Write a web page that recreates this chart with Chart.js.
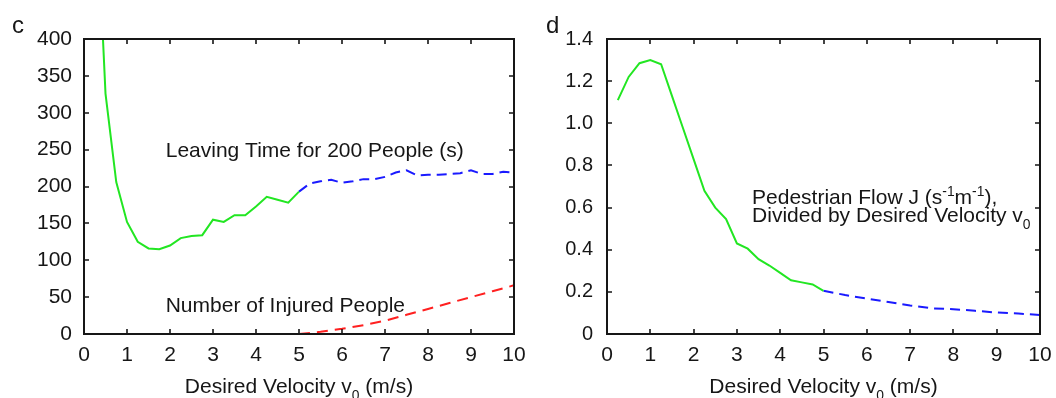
<!DOCTYPE html>
<html><head><meta charset="utf-8">
<script src="https://cdn.jsdelivr.net/npm/chart.js@4.4.1/dist/chart.umd.min.js"></script>
<style>
html,body{margin:0;padding:0;background:#fff;overflow:hidden}
#wrap{position:relative;width:1056px;height:398px;background:#fff}
#c1{position:absolute;left:0;top:0}
#c2{position:absolute;left:530px;top:0}
</style></head><body>
<div id="wrap"><canvas id="c1" width="530" height="398"></canvas><canvas id="c2" width="526" height="398"></canvas></div>
<script>
// ---------- data ----------
const xTickVals = [0,1,2,3,4,5,6,7,8,9,10];
const xTickLabels = ['0','1','2','3','4','5','6','7','8','9','10'];

// panel c
const cYTickVals = [0,50,100,150,200,250,300,350,400];
const cYTickLabels = ['0','50','100','150','200','250','300','350','400'];
const cGreenV = [0.25,0.5,0.75,1,1.25,1.5,1.75,2,2.25,2.5,2.75,3,3.25,3.5,3.75,4,4.25,4.5,4.75,5];
const cGreenT = [640,326,206,152,125,116,115,120,130,133,134,155,152,161,161,173,186,182,178,193];
const cBlueV = [5,5.25,5.5,5.75,6,6.25,6.5,6.75,7,7.25,7.5,7.75,8,8.25,8.5,8.75,9,9.25,9.5,9.75,10];
const cBlueT = [193,204,207,209,205,207,210,210,213,219,222,215,216,216,217,218,222,217,217,220,219];
const cRedV = [5,5.5,6,6.5,7,7.5,8,8.5,9,9.5,10];
const cRedN = [0,3,7,12,18,26,34,42,50,58,66];

// panel d
const dYTickVals = [0,0.2,0.4,0.6,0.8,1.0,1.2,1.4];
const dYTickLabels = ['0','0.2','0.4','0.6','0.8','1.0','1.2','1.4'];
const dGreenV = [0.25,0.5,0.75,1,1.25,1.5,1.75,2,2.25,2.5,2.75,3,3.25,3.5,3.75,4,4.25,4.5,4.75,5];
const dGreenJ = [1.11,1.22,1.285,1.30,1.28,1.13,0.98,0.83,0.68,0.60,0.545,0.43,0.405,0.355,0.325,0.29,0.255,0.245,0.235,0.205];
const dBlueV = [5,5.5,6,6.5,7,7.5,8,8.5,9,9.5,10];
const dBlueJ = [0.205,0.185,0.168,0.152,0.135,0.122,0.118,0.11,0.102,0.097,0.09];

// ---------- helpers ----------
const FONT = "'Liberation Sans', Arial, Helvetica, sans-serif";
const INK = '#161616';
const GREEN = '#22e622', BLUE = '#1a1aff', RED = '#ff2020';

function pts(xs, ys){ return xs.map((x,i)=>({x:x, y:ys[i]})); }

function drawRich(ctx, parts, x, y, size, measureOnly){
  let cx = x;
  for (const p of parts){
    const m = p[1] || 'n';
    const s = m === 'n' ? size : size*0.66;
    ctx.font = s + 'px ' + FONT;
    const dy = m === 'sub' ? size*0.32 : (m === 'sup' ? -size*0.4 : 0);
    if (!measureOnly) ctx.fillText(p[0], cx, y + dy);
    cx += ctx.measureText(p[0]).width;
  }
  return cx - x;
}

function decorPlugin(opt){
  return {
    id: 'decor',
    afterDatasetsDraw(chart){
      const {ctx, chartArea:a, scales:{x, y}} = chart;
      ctx.save();
      // inward ticks on all four sides
      ctx.strokeStyle = INK; ctx.lineWidth = 1.6;
      const L = 5;
      ctx.beginPath();
      x.ticks.forEach(t=>{
        const px = Math.round(x.getPixelForValue(t.value));
        ctx.moveTo(px, a.bottom); ctx.lineTo(px, a.bottom - L);
        ctx.moveTo(px, a.top); ctx.lineTo(px, a.top + L);
      });
      y.ticks.forEach(t=>{
        const py = Math.round(y.getPixelForValue(t.value));
        ctx.moveTo(a.left, py); ctx.lineTo(a.left + L, py);
        ctx.moveTo(a.right, py); ctx.lineTo(a.right - L, py);
      });
      ctx.stroke();
      // frame
      ctx.lineWidth = 2;
      ctx.strokeRect(a.left, a.top, a.right - a.left, a.bottom - a.top);
      // texts
      ctx.fillStyle = INK; ctx.textAlign = 'left'; ctx.textBaseline = 'alphabetic';
      ctx.font = '24px ' + FONT;
      ctx.fillText(opt.letter, opt.letterX, 33);
      // axis title
      const title = [['Desired Velocity v'],['0','sub'],[' (m/s)']];
      const w = drawRich(ctx, title, 0, 0, 21, true);
      drawRich(ctx, title, (a.left + a.right)/2 - w/2, 393, 21);
      // annotations
      opt.notes.forEach(n=>{
        drawRich(ctx, n.parts, x.getPixelForValue(n.x), y.getPixelForValue(n.y), 21);
      });
      ctx.restore();
    }
  };
}

function makeChart(id, datasets, yVals, yLabels, yMax, yFont, yPad, pad, opt){
  return new Chart(document.getElementById(id), {
    type: 'line',
    data: { datasets: datasets },
    options: {
      responsive: false, animation: false, devicePixelRatio: 1,
      layout: { padding: pad },
      plugins: { legend: {display:false}, tooltip: {enabled:false} },
      elements: { point: {radius:0}, line: {tension:0, borderWidth:2} },
      scales: {
        x: {
          type: 'linear', min: 0, max: 10,
          afterBuildTicks(s){ s.ticks = xTickVals.map(v=>({value:v})); },
          afterFit(s){ s.height = opt.xH; s.paddingLeft = 0; s.paddingRight = 0; },
          grid: {display:false, drawTicks:false}, border: {display:false},
          ticks: { padding: 9, color: INK, font: {family: FONT, size: 21},
            maxRotation: 0, autoSkip: false,
            callback(v, i){ return xTickLabels[i]; } }
        },
        y: {
          type: 'linear', min: 0, max: yMax,
          afterBuildTicks(s){ s.ticks = yVals.map(v=>({value:v})); },
          afterFit(s){ s.width = opt.yW; s.paddingTop = 0; s.paddingBottom = 0; },
          grid: {display:false, drawTicks:false}, border: {display:false},
          ticks: { padding: yPad, color: INK, font: {family: FONT, size: yFont},
            autoSkip: false,
            callback(v, i){ return yLabels[i]; } }
        }
      }
    },
    plugins: [decorPlugin(opt)]
  });
}

const dashBlue = [10,6], dashRed = [11,7];

makeChart('c1', [
  { data: pts(cGreenV, cGreenT), borderColor: GREEN, borderWidth: 2 },
  { data: pts(cBlueV, cBlueT), borderColor: BLUE, borderWidth: 2, borderDash: dashBlue },
  { data: pts(cRedV, cRedN), borderColor: RED, borderWidth: 2, borderDash: dashRed }
], cYTickVals, cYTickLabels, 400, 21, 12, {left:0, top:39, right:16, bottom:0},
{ letter:'c', letterX: 12, xH: 64, yW: 84, notes: [
  { x: 1.9, y: 240, parts: [['Leaving Time for 200 People (s)']] },
  { x: 1.9, y: 29.5, parts: [['Number of Injured People']] }
]});

makeChart('c2', [
  { data: pts(dGreenV, dGreenJ), borderColor: GREEN, borderWidth: 2 },
  { data: pts(dBlueV, dBlueJ), borderColor: BLUE, borderWidth: 2, borderDash: dashBlue }
], dYTickVals, dYTickLabels, 1.4, 20, 14, {left:0, top:39, right:16, bottom:0},
{ letter:'d', letterX: 16, xH: 64, yW: 77, notes: [
  { x: 3.35, y: 0.617, parts: [['Pedestrian Flow J (s'],['-1','sup'],['m'],['-1','sup'],['),']] },
  { x: 3.35, y: 0.532, parts: [['Divided by Desired Velocity v'],['0','sub']] }
]});
</script>
</body></html>
